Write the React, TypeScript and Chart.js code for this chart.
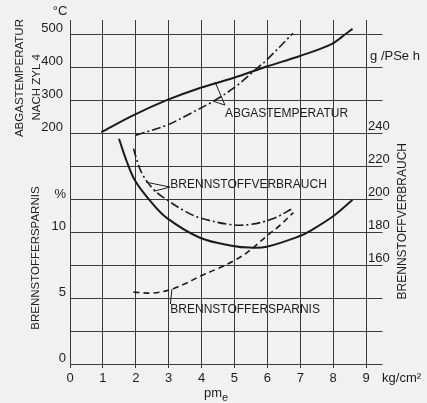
import React, { useEffect, useRef } from "react";
import { Chart, registerables } from "chart.js";

Chart.register(...registerables);

// ---- data ----
const xTicks = [0, 1, 2, 3, 4, 5, 6, 7, 8, 9];
const gridTicksT = [-500, -400, -300, -200, -100, 0, 100, 200, 300, 400, 500];
const tempTicks = [200, 300, 400, 500];
const pctTicks = [0, 5, 10];
const consTicks = [160, 180, 200, 220, 240];

// Abgastemperatur (solid), °C
const abgasX = [0.95, 1.92, 2.94, 3.95, 4.96, 5.98, 6.99, 7.95, 8.41, 8.59];
const abgasY = [205, 256, 302, 339, 369, 404, 436, 472, 505, 518];
// Abgastemperatur (dash-dot), °C
const abgas2X = [2.0, 2.94, 3.65, 4.41, 5.02, 5.62, 5.98, 6.78];
const abgas2Y = [196, 226, 261, 302, 342, 393, 424, 505];
// Brennstoffverbrauch (solid), g/PSe h
const verbX = [1.49, 1.72, 1.98, 2.45, 2.94, 3.95, 4.96, 5.47, 5.98, 6.99, 7.29, 8.0, 8.59];
const verbY = [237, 223.5, 211.5, 199, 189, 177, 172, 171, 171.5, 178, 181, 190, 200];
// Brennstoffverbrauch (dash-dot), g/PSe h
const verb2X = [1.93, 2.05, 2.2, 2.53, 2.94, 3.55, 3.95, 4.86, 5.47, 6.18, 6.79];
const verb2Y = [231, 223, 215.5, 206.5, 200, 192.5, 189, 185, 185, 188.6, 195];
// Brennstoffersparnis (dashed), %
const sparX = [1.93, 2.53, 3.04, 3.55, 3.95, 4.46, 4.96, 5.37, 5.98, 6.4, 6.79];
const sparY = [5.5, 5.43, 5.69, 6.2, 6.7, 7.25, 7.85, 8.48, 9.75, 10.6, 11.53];

// leader lines (data coordinates)
const leadTempX = [4.41, 4.71, 4.35];
const leadTempY = [357, 287, 299];
const leadVerbX = [2.31, 3.04, 2.55];
const leadVerbY = [210.7, 207.7, 205.2];
const leadSparX = [3.1, 3.05];
const leadSparY = [5.75, 4.6];

const FONT = '"Liberation Sans", Arial, sans-serif';
const INK = "#1c1c1c";
const BG = "#f1f1f1";

const pts = (xs: number[], ys: number[]) => xs.map((x, i) => ({ x, y: ys[i] }));

const textPlugin = {
  id: "texts",
  afterDraw(chart: any) {
    const ctx = chart.ctx as CanvasRenderingContext2D;
    const sx = chart.scales.x;
    const yT = chart.scales.yT;
    const yP = chart.scales.yP;
    const yC = chart.scales.yC;
    const x0 = sx.getPixelForValue(0);
    const x9 = sx.getPixelForValue(9);
    const bottom = chart.chartArea.bottom;
    ctx.save();
    ctx.fillStyle = INK;
    ctx.textBaseline = "middle";

    ctx.font = `13px ${FONT}`;
    ctx.textAlign = "right";
    tempTicks.forEach((t) => ctx.fillText(String(t), x0 - 7, yT.getPixelForValue(t) - 6));
    pctTicks.forEach((p) => ctx.fillText(String(p), x0 - 4, yP.getPixelForValue(p) - 6));
    ctx.fillText("%", x0 - 4, yP.getPixelForValue(12.5) - 5);
    ctx.textAlign = "center";
    ctx.fillText("°C", x0 - 10, yT.getPixelForValue(500) - 23);

    ctx.textAlign = "left";
    consTicks.forEach((c) => ctx.fillText(String(c), x9 + 2, yC.getPixelForValue(c) - 7));
    ctx.fillText("g /PSe h", x9 + 4, yT.getPixelForValue(500) + 22);
    ctx.fillText("kg/cm²", x9 + 16, bottom + 10);

    // pm_e
    ctx.textAlign = "center";
    ctx.fillText("pm", sx.getPixelForValue(4.35), bottom + 25);
    ctx.font = `11px ${FONT}`;
    ctx.fillText("e", sx.getPixelForValue(4.35) + 12, bottom + 30);

    // in-plot labels
    ctx.font = `12px ${FONT}`;
    ctx.textAlign = "left";
    ctx.fillText("ABGASTEMPERATUR", sx.getPixelForValue(4.71), yT.getPixelForValue(262));
    ctx.fillText("BRENNSTOFFVERBRAUCH", sx.getPixelForValue(3.05), yC.getPixelForValue(208.9));
    ctx.fillText("BRENNSTOFFERSPARNIS", sx.getPixelForValue(3.05), yP.getPixelForValue(4.19));

    // rotated axis titles
    const rot = (txt: string, cx: number, cy: number, size: number) => {
      ctx.save();
      ctx.translate(cx, cy);
      ctx.rotate(-Math.PI / 2);
      ctx.font = `${size}px ${FONT}`;
      ctx.textAlign = "center";
      ctx.textBaseline = "middle";
      ctx.fillText(txt, 0, 0);
      ctx.restore();
    };
    rot("ABGASTEMPERATUR", x0 - 50, yT.getPixelForValue(369), 11.5);
    rot("NACH ZYL 4", x0 - 33, yT.getPixelForValue(341), 11.5);
    rot("BRENNSTOFFERSPARNIS", x0 - 34, yP.getPixelForValue(8.08), 11.5);
    rot("BRENNSTOFFVERBRAUCH", x9 + 37, yC.getPixelForValue(187), 12);
    ctx.restore();
  },
};

export default function App() {
  const ref = useRef<HTMLCanvasElement | null>(null);

  useEffect(() => {
    document.body.style.margin = "0";
    document.body.style.background = BG;
    if (!ref.current) return;
    const line = (data: any[], axis: string, extra: any = {}) => ({
      data,
      yAxisID: axis,
      borderColor: INK,
      borderWidth: 2,
      pointRadius: 0,
      fill: false,
      tension: 0.35,
      ...extra,
    });
    const chart = new Chart(ref.current, {
      type: "line",
      data: {
        datasets: [
          line(pts(abgasX, abgasY), "yT"),
          line(pts(abgas2X, abgas2Y), "yT", { borderWidth: 1.6, borderDash: [9, 3, 2, 3] }),
          line(pts(verbX, verbY), "yC"),
          line(pts(verb2X, verb2Y), "yC", { borderWidth: 1.6, borderDash: [9, 3, 2, 3] }),
          line(pts(sparX, sparY), "yP", { borderWidth: 1.6, borderDash: [6, 4] }),
          line(pts(leadTempX, leadTempY), "yT", { borderWidth: 1, tension: 0 }),
          line(pts(leadVerbX, leadVerbY), "yC", { borderWidth: 1, tension: 0 }),
          line(pts(leadSparX, leadSparY), "yP", { borderWidth: 1, tension: 0 }),
        ] as any,
      },
      options: {
        responsive: false,
        animation: false,
        layout: { padding: { left: 70, top: 20, right: 44.5, bottom: 13.4 } },
        plugins: { legend: { display: false }, tooltip: { enabled: false } },
        scales: {
          x: {
            type: "linear",
            min: 0,
            max: 9.5,
            afterBuildTicks: (s: any) => {
              s.ticks = xTicks.map((v) => ({ value: v }));
            },
            grid: { color: "#3a3a3a", lineWidth: 1, drawTicks: false },
            border: { display: false },
            ticks: { padding: 3, color: INK, font: { family: FONT, size: 13 } },
          },
          yT: {
            type: "linear",
            position: "left",
            min: -510,
            max: 545,
            afterBuildTicks: (s: any) => {
              s.ticks = gridTicksT.map((v) => ({ value: v }));
            },
            grid: { color: "#3a3a3a", lineWidth: 1, drawTicks: false },
            border: { display: false },
            ticks: { display: false },
          },
          yP: { type: "linear", display: false, min: -0.25, max: 26.125 },
          yC: { type: "linear", display: false, position: "right", min: 98, max: 309 },
        },
      } as any,
      plugins: [textPlugin],
    });
    return () => chart.destroy();
  }, []);

  return (
    <div style={{ width: 427, height: 403, background: BG }}>
      <canvas ref={ref} width={427} height={403} style={{ display: "block" }} />
    </div>
  );
}
